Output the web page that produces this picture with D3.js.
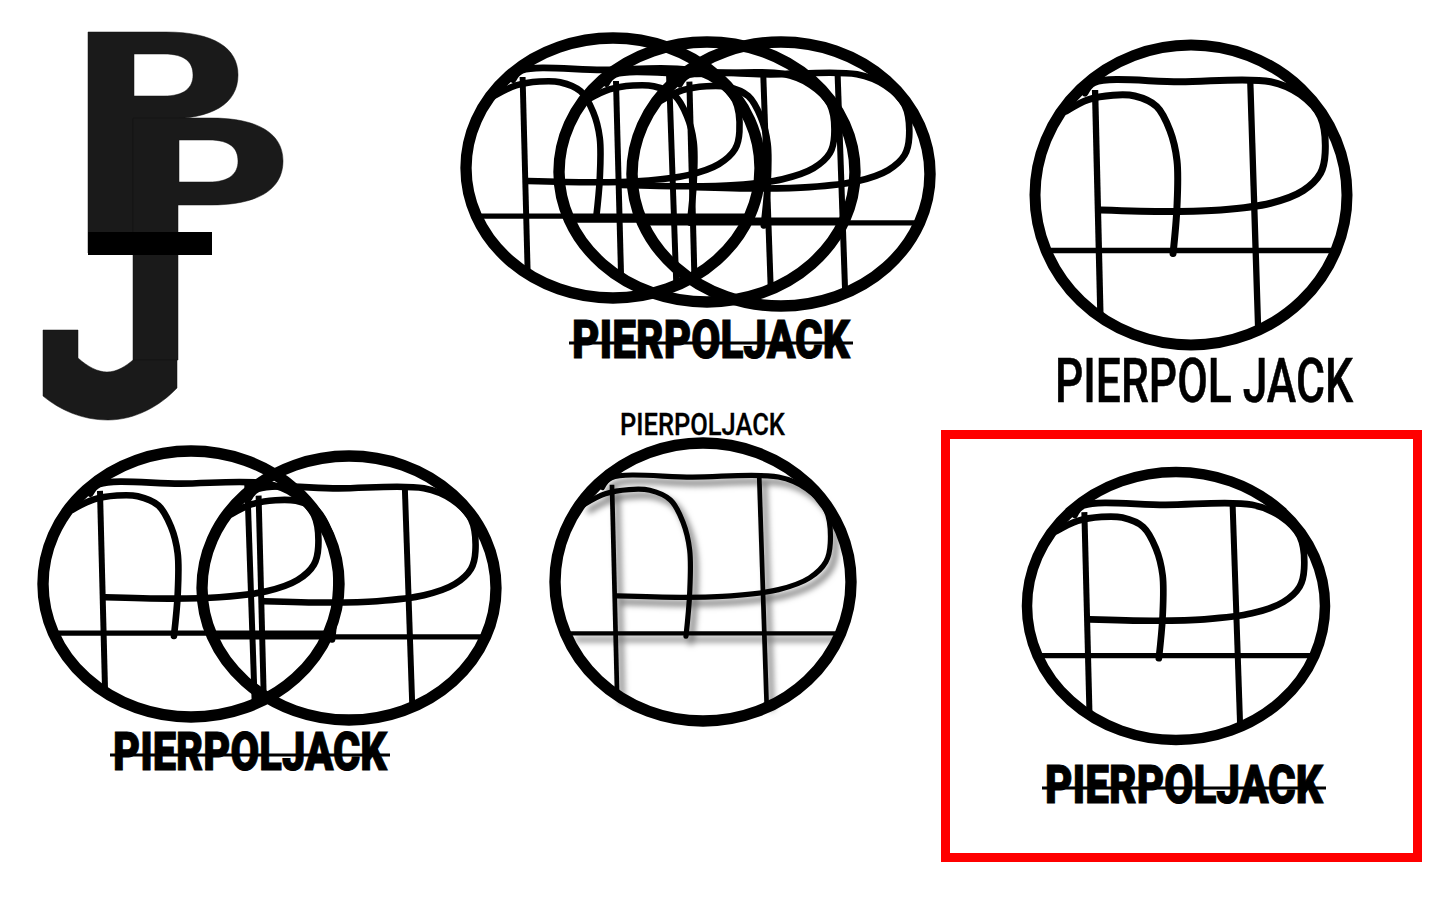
<!DOCTYPE html>
<html>
<head>
<meta charset="utf-8">
<script src="https://cdn.jsdelivr.net/npm/d3@7"></script>
<style>
  html, body { margin: 0; padding: 0; background: #fff; }
  svg { display: block; }
</style>
</head>
<body>
<div id="sheet"></div>
<script>
// the "PP" mark, as strokes in unit-circle space (u,v in -1..1)
var topBowl = [[-0.68,-0.68],[-0.62,-0.75],[-0.07,-0.755],[0.51,-0.755],[0.70,-0.67],[0.83,-0.52],[0.86,-0.28],[0.83,-0.145],[0.72,-0.03],[0.51,0.055],[0.19,0.10],[-0.135,0.11],[-0.58,0.10]];
var arch = [[-0.80,-0.56],[-0.66,-0.635],[-0.50,-0.665],[-0.36,-0.66],[-0.22,-0.59],[-0.135,-0.43],[-0.09,-0.23],[-0.09,0.08],[-0.115,0.39]];
var leftStem = [[-0.615,-0.70],[-0.58,0.83]];
var rightStem = [[0.38,-0.755],[0.43,0.88]];
var crossBar = [[-0.9,0.37],[0.9,0.37]];

var wordHeavy = "PIERPOLJACK";
var wordThin = "PIERPOL JACK";
var wordSmall = "PIERPOLJACK";

var W = 1440, H = 900;

var svg = d3.select("#sheet").append("svg")
    .attr("width", W).attr("height", H)
    .attr("viewBox", "0 0 " + W + " " + H);

var defs = svg.append("defs");
var shadow = defs.append("filter").attr("id", "softShadow")
    .attr("x", "-20%").attr("y", "-20%").attr("width", "140%").attr("height", "140%");
shadow.append("feDropShadow")
    .attr("dx", 5).attr("dy", 6).attr("stdDeviation", 3)
    .attr("flood-color", "#000").attr("flood-opacity", 0.55);

// one mark: ring + P strokes, placed via scales
function drawMark( parent, cx, cy, rx, ry, opts ) {
    opts = opts || {};
    var x = d3.scaleLinear().domain([-1, 1]).range([cx - rx, cx + rx]),
        y = d3.scaleLinear().domain([-1, 1]).range([cy - ry, cy + ry]),
        k = rx / 156,
        smooth = d3.line().x(d => x(d[0])).y(d => y(d[1])).curve(d3.curveCatmullRom.alpha(0.5)),
        straight = d3.line().x(d => x(d[0])).y(d => y(d[1]));

    var g = parent.append("g").attr("fill", "none").attr("stroke", "#000")
        .attr("stroke-linecap", "round").attr("stroke-linejoin", "round");

    var inner = g.append("g");
    if ( opts.shadow ) inner.attr("filter", "url(#softShadow)");
    var lw = (opts.lineWidth || 7) * k;

    inner.append("path").attr("d", smooth(topBowl)).attr("stroke-width", lw);
    inner.append("path").attr("d", smooth(arch)).attr("stroke-width", lw);
    [leftStem, rightStem].forEach( function ( s ) {
        inner.append("path").attr("d", straight(s)).attr("stroke-width", lw * 0.9).attr("stroke-linecap", "butt");
    } );
    inner.append("path").attr("d", straight(crossBar)).attr("stroke-width", lw * 0.8).attr("stroke-linecap", "butt");

    g.append("ellipse")
        .attr("cx", x(0)).attr("cy", y(0))
        .attr("rx", x(1) - x(0)).attr("ry", y(1) - y(0))
        .attr("stroke-width", (opts.ringWidth || 11) * k);
}

// text squeezed into a given width by a horizontal scale on its group
function fitWord( text, x0, base, len, size, weight, strokeW ) {
    var g = svg.append("g").attr("transform", "translate(" + x0 + "," + base + ")");
    var t = g.append("text")
        .attr("x", 0).attr("y", 0)
        .attr("font-family", "Roboto, 'DejaVu Sans Condensed', sans-serif")
        .attr("font-weight", weight)
        .attr("font-size", size)
        .attr("fill", "#000")
        .text(text);
    if ( strokeW ) t.attr("stroke", "#000").attr("stroke-width", strokeW);
    var natural = t.node().getComputedTextLength();
    g.attr("transform", "translate(" + x0 + "," + base + ") scale(" + (len / natural) + ",1)");
    return g;
}

function heavyWord( x0, base, len, size ) {
    fitWord(wordHeavy, x0, base, len, size, 900, 1);
    svg.append("path")
        .attr("d", d3.line()([[x0 - 3, base - size * 0.285], [x0 + len + 3, base - size * 0.285]]))
        .attr("stroke", "#000").attr("stroke-width", 3);
}

// --- PJ monogram (top left)
var mono = svg.append("g").attr("stroke", "#111").attr("stroke-width", 0.5);
function pShape( x0, y0, stemH ) {
    var p = d3.path();
    p.moveTo(x0, y0); p.lineTo(x0 + 78, y0);
    p.bezierCurveTo(x0 + 126, y0, x0 + 150, y0 + 16, x0 + 150, y0 + 43);
    p.bezierCurveTo(x0 + 150, y0 + 72, x0 + 124, y0 + 87, x0 + 78, y0 + 87);
    p.lineTo(x0 + 45, y0 + 87); p.lineTo(x0 + 45, y0 + stemH); p.lineTo(x0, y0 + stemH); p.closePath();
    p.moveTo(x0 + 46, y0 + 22); p.lineTo(x0 + 76, y0 + 22);
    p.bezierCurveTo(x0 + 98, y0 + 22, x0 + 105, y0 + 31, x0 + 105, y0 + 43);
    p.bezierCurveTo(x0 + 105, y0 + 56, x0 + 96, y0 + 64, x0 + 76, y0 + 64);
    p.lineTo(x0 + 46, y0 + 64); p.closePath();
    return p.toString();
}
mono.append("path").attr("d", pShape(88, 32, 221)).attr("fill", "#1a1a1a").attr("fill-rule", "evenodd");
mono.append("path").attr("d", pShape(133, 118, 242)).attr("fill", "#1a1a1a").attr("fill-rule", "evenodd");
var j = d3.path();
j.moveTo(43, 330); j.lineTo(78, 330); j.lineTo(78, 358);
j.bezierCurveTo(88, 367, 98, 372, 107, 372);
j.bezierCurveTo(117, 372, 126, 366, 133, 360);
j.lineTo(177, 360); j.lineTo(177, 388);
j.bezierCurveTo(160, 406, 135, 420, 108, 420);
j.bezierCurveTo(82, 420, 60, 410, 43, 396); j.closePath();
mono.append("path").attr("d", j.toString()).attr("fill", "#1a1a1a");
mono.append("rect").attr("x", 88).attr("y", 232).attr("width", 124).attr("height", 23).attr("fill", "#000").attr("stroke", "none");

// --- triple mark (top middle)
drawMark(svg, 613, 168, 147, 130, { ringWidth: 12 });
drawMark(svg, 707, 172, 148, 130, { ringWidth: 12 });
drawMark(svg, 781, 174, 149, 132, { ringWidth: 12 });
heavyWord(572, 358, 278, 53);

// --- single mark (top right)
drawMark(svg, 1191, 195, 156, 150, {});
fitWord(wordThin, 1055, 402, 298, 62, 500, 0.6);

// --- double mark (bottom left)
drawMark(svg, 191, 584, 148, 133, { ringWidth: 12 });
drawMark(svg, 349, 588, 147, 132, { ringWidth: 12 });
heavyWord(113, 770, 274, 53);

// --- shadowed mark (bottom middle)
fitWord(wordSmall, 620, 435, 165, 31, 500, 0.3);
drawMark(svg, 703, 582, 148, 139, { shadow: true, lineWidth: 5.5, ringWidth: 12 });

// --- framed mark (bottom right)
svg.append("rect")
    .attr("x", 945.5).attr("y", 434.5).attr("width", 472).attr("height", 423)
    .attr("fill", "none").attr("stroke", "#ff0000").attr("stroke-width", 9);
drawMark(svg, 1176, 606, 149, 134, {});
heavyWord(1045, 803, 278, 53);
</script>
</body>
</html>
